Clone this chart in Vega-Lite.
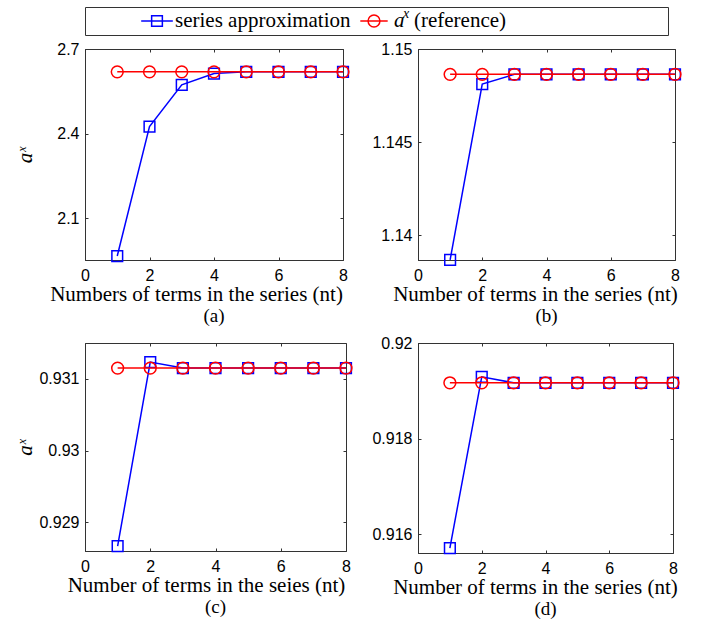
{
  "$schema": "https://vega.github.io/schema/vega-lite/v6.json",
  "padding": {"left": 13, "top": 6, "right": 5, "bottom": 5},
  "background": "white",
  "datasets": {
    "pts": [
      {"panel": "a", "nt": 1, "series": 1.966, "reference": 2.619},
      {"panel": "a", "nt": 2, "series": 2.425, "reference": 2.619},
      {"panel": "a", "nt": 3, "series": 2.573, "reference": 2.619},
      {"panel": "a", "nt": 4, "series": 2.613, "reference": 2.619},
      {"panel": "a", "nt": 5, "series": 2.619, "reference": 2.619},
      {"panel": "a", "nt": 6, "series": 2.619, "reference": 2.619},
      {"panel": "a", "nt": 7, "series": 2.619, "reference": 2.619},
      {"panel": "a", "nt": 8, "series": 2.619, "reference": 2.619},
      {"panel": "b", "nt": 1, "series": 1.13869, "reference": 1.14864},
      {"panel": "b", "nt": 2, "series": 1.14812, "reference": 1.14864},
      {"panel": "b", "nt": 3, "series": 1.14864, "reference": 1.14864},
      {"panel": "b", "nt": 4, "series": 1.14864, "reference": 1.14864},
      {"panel": "b", "nt": 5, "series": 1.14864, "reference": 1.14864},
      {"panel": "b", "nt": 6, "series": 1.14864, "reference": 1.14864},
      {"panel": "b", "nt": 7, "series": 1.14864, "reference": 1.14864},
      {"panel": "b", "nt": 8, "series": 1.14864, "reference": 1.14864},
      {"panel": "c", "nt": 1, "series": 0.928667, "reference": 0.93115},
      {"panel": "c", "nt": 2, "series": 0.931234, "reference": 0.93115},
      {"panel": "c", "nt": 3, "series": 0.93115, "reference": 0.93115},
      {"panel": "c", "nt": 4, "series": 0.93115, "reference": 0.93115},
      {"panel": "c", "nt": 5, "series": 0.93115, "reference": 0.93115},
      {"panel": "c", "nt": 6, "series": 0.93115, "reference": 0.93115},
      {"panel": "c", "nt": 7, "series": 0.93115, "reference": 0.93115},
      {"panel": "c", "nt": 8, "series": 0.93115, "reference": 0.93115},
      {"panel": "d", "nt": 1, "series": 0.915708, "reference": 0.919167},
      {"panel": "d", "nt": 2, "series": 0.919292, "reference": 0.919167},
      {"panel": "d", "nt": 3, "series": 0.919167, "reference": 0.919167},
      {"panel": "d", "nt": 4, "series": 0.919167, "reference": 0.919167},
      {"panel": "d", "nt": 5, "series": 0.919167, "reference": 0.919167},
      {"panel": "d", "nt": 6, "series": 0.919167, "reference": 0.919167},
      {"panel": "d", "nt": 7, "series": 0.919167, "reference": 0.919167},
      {"panel": "d", "nt": 8, "series": 0.919167, "reference": 0.919167}
    ],
    "legend": [
      {"item": "series", "k": 0},
      {"item": "reference", "k": 0}
    ]
  },
  "spacing": 4,
  "vconcat": [
    {
      "width": 583,
      "height": 28,
      "data": {"name": "legend"},
      "encoding": {
        "x": {"field": "item", "type": "nominal", "scale": {"type": "point", "padding": 0, "domain": ["series", "reference"], "range": [72, 289]}, "axis": null},
        "y": {"field": "k", "type": "quantitative", "scale": {"domain": [-1, 1]}, "axis": {"labels": false, "ticks": false, "domain": false, "title": "aˣ", "titleOpacity": 0, "titleX": -48, "titleBaseline": "bottom", "titleFontStyle": "italic"}}
      },
      "layer": [
        {"transform": [{"filter": "datum.item === 'series'"}], "mark": {"type": "point", "shape": "M-1,0H1", "filled": false, "size": 1000, "strokeWidth": 1.5, "color": "#0000ff", "opacity": 1}},
        {"transform": [{"filter": "datum.item === 'series'"}], "mark": {"type": "point", "shape": "square", "filled": false, "size": 115, "strokeWidth": 1.5, "color": "#0000ff", "opacity": 1}},
        {"transform": [{"filter": "datum.item === 'reference'"}], "mark": {"type": "point", "shape": "M-1,0H1", "filled": false, "size": 750, "strokeWidth": 1.5, "color": "#ff0000", "opacity": 1}},
        {"transform": [{"filter": "datum.item === 'reference'"}], "mark": {"type": "point", "shape": "circle", "filled": false, "size": 140, "strokeWidth": 1.5, "color": "#ff0000", "opacity": 1}},
        {"transform": [{"filter": "datum.item === 'series'"}], "mark": {"type": "text", "text": "series approximation", "align": "left", "baseline": "middle", "dx": 18, "font": "Liberation Serif", "fontSize": 21, "color": "#000"}},
        {"transform": [{"filter": "datum.item === 'reference'"}], "mark": {"type": "text", "text": "a", "align": "left", "baseline": "middle", "dx": 20, "font": "Liberation Serif", "fontStyle": "italic", "fontSize": 21, "color": "#000"}},
        {"transform": [{"filter": "datum.item === 'reference'"}], "mark": {"type": "text", "text": "x", "align": "left", "baseline": "middle", "dx": 29, "dy": -7, "font": "Liberation Serif", "fontStyle": "italic", "fontSize": 14, "color": "#000"}},
        {"transform": [{"filter": "datum.item === 'reference'"}], "mark": {"type": "text", "text": "(reference)", "align": "left", "baseline": "middle", "dx": 40, "font": "Liberation Serif", "fontSize": 21, "color": "#000"}}
      ]
    },
    {
      "spacing": 7,
      "vconcat": [
        {
          "spacing": 18,
          "hconcat": [
            {
              "width": 258,
              "height": 211,
              "data": {"name": "pts"},
              "transform": [{"filter": "datum.panel === 'a'"}],
              "title": {"text": "(a)", "orient": "bottom", "offset": 3},
              "resolve": {"scale": {"x": "independent", "y": "independent"}},
              "layer": [
                {"mark": {"type": "line", "color": "#0000ff", "strokeWidth": 1.5, "point": {"shape": "square", "filled": false, "size": 115, "strokeWidth": 1.5, "color": "#0000ff", "opacity": 1}},
                 "encoding": {
                   "x": {"field": "nt", "type": "quantitative", "scale": {"domain": [0, 8], "nice": false}, "axis": {"values": [0, 2, 4, 6, 8], "title": "Numbers of terms in the series (nt)", "titleX": 111}},
                   "y": {"field": "series", "type": "quantitative", "scale": {"domain": [1.952, 2.7], "nice": false, "zero": false}, "axis": {"values": [2.1, 2.4, 2.7], "format": "~g", "title": "aˣ", "titleX": -50, "titleBaseline": "bottom", "titleFontStyle": "italic"}}}},
                {"mark": {"type": "line", "color": "#ff0000", "strokeWidth": 1.5, "point": {"shape": "circle", "filled": false, "size": 140, "strokeWidth": 1.5, "color": "#ff0000", "opacity": 1}},
                 "encoding": {
                   "x": {"field": "nt", "type": "quantitative", "scale": {"domain": [0, 8], "nice": false}, "axis": {"orient": "top", "values": [0, 2, 4, 6, 8], "labels": false, "domain": false, "title": null}},
                   "y": {"field": "reference", "type": "quantitative", "scale": {"domain": [1.952, 2.7], "nice": false, "zero": false}, "axis": {"orient": "right", "values": [2.1, 2.4, 2.7], "labels": false, "domain": false, "title": null}}}}
              ]
            },
            {
              "width": 257,
              "height": 211,
              "data": {"name": "pts"},
              "transform": [{"filter": "datum.panel === 'b'"}],
              "title": {"text": "(b)", "orient": "bottom", "offset": 3},
              "resolve": {"scale": {"x": "independent", "y": "independent"}},
              "layer": [
                {"mark": {"type": "line", "color": "#0000ff", "strokeWidth": 1.5, "point": {"shape": "square", "filled": false, "size": 115, "strokeWidth": 1.5, "color": "#0000ff", "opacity": 1}},
                 "encoding": {
                   "x": {"field": "nt", "type": "quantitative", "scale": {"domain": [0, 8], "nice": false}, "axis": {"values": [0, 2, 4, 6, 8], "title": "Number of terms in the series (nt)", "titleX": 117}},
                   "y": {"field": "series", "type": "quantitative", "scale": {"domain": [1.13868, 1.15], "nice": false, "zero": false}, "axis": {"values": [1.14, 1.145, 1.15], "format": "~g", "title": null}}}},
                {"mark": {"type": "line", "color": "#ff0000", "strokeWidth": 1.5, "point": {"shape": "circle", "filled": false, "size": 140, "strokeWidth": 1.5, "color": "#ff0000", "opacity": 1}},
                 "encoding": {
                   "x": {"field": "nt", "type": "quantitative", "scale": {"domain": [0, 8], "nice": false}, "axis": {"orient": "top", "values": [0, 2, 4, 6, 8], "labels": false, "domain": false, "title": null}},
                   "y": {"field": "reference", "type": "quantitative", "scale": {"domain": [1.13868, 1.15], "nice": false, "zero": false}, "axis": {"orient": "right", "values": [1.14, 1.145, 1.15], "labels": false, "domain": false, "title": null}}}}
              ]
            }
          ]
        },
        {
          "spacing": 15,
          "hconcat": [
            {
              "width": 261,
              "height": 208,
              "data": {"name": "pts"},
              "transform": [{"filter": "datum.panel === 'c'"}],
              "title": {"text": "(c)", "orient": "bottom", "offset": 3},
              "resolve": {"scale": {"x": "independent", "y": "independent"}},
              "layer": [
                {"mark": {"type": "line", "color": "#0000ff", "strokeWidth": 1.5, "point": {"shape": "square", "filled": false, "size": 115, "strokeWidth": 1.5, "color": "#0000ff", "opacity": 1}},
                 "encoding": {
                   "x": {"field": "nt", "type": "quantitative", "scale": {"domain": [0, 8], "nice": false}, "axis": {"values": [0, 2, 4, 6, 8], "title": "Number of terms in the seies (nt)", "titleX": 121}},
                   "y": {"field": "series", "type": "quantitative", "scale": {"domain": [0.9286, 0.9315], "nice": false, "zero": false}, "axis": {"values": [0.929, 0.93, 0.931], "format": "~g", "title": "aˣ", "titleX": -50, "titleBaseline": "bottom", "titleFontStyle": "italic"}}}},
                {"mark": {"type": "line", "color": "#ff0000", "strokeWidth": 1.5, "point": {"shape": "circle", "filled": false, "size": 140, "strokeWidth": 1.5, "color": "#ff0000", "opacity": 1}},
                 "encoding": {
                   "x": {"field": "nt", "type": "quantitative", "scale": {"domain": [0, 8], "nice": false}, "axis": {"orient": "top", "values": [0, 2, 4, 6, 8], "labels": false, "domain": false, "title": null}},
                   "y": {"field": "reference", "type": "quantitative", "scale": {"domain": [0.9286, 0.9315], "nice": false, "zero": false}, "axis": {"orient": "right", "values": [0.929, 0.93, 0.931], "labels": false, "domain": false, "title": null}}}}
              ]
            },
            {
              "width": 255,
              "height": 210,
              "data": {"name": "pts"},
              "transform": [{"filter": "datum.panel === 'd'"}],
              "title": {"text": "(d)", "orient": "bottom", "offset": 3},
              "resolve": {"scale": {"x": "independent", "y": "independent"}},
              "layer": [
                {"mark": {"type": "line", "color": "#0000ff", "strokeWidth": 1.5, "point": {"shape": "square", "filled": false, "size": 115, "strokeWidth": 1.5, "color": "#0000ff", "opacity": 1}},
                 "encoding": {
                   "x": {"field": "nt", "type": "quantitative", "scale": {"domain": [0, 8], "nice": false}, "axis": {"values": [0, 2, 4, 6, 8], "title": "Number of terms in the series (nt)", "titleX": 117}},
                   "y": {"field": "series", "type": "quantitative", "scale": {"domain": [0.915604, 0.92], "nice": false, "zero": false}, "axis": {"values": [0.916, 0.918, 0.92], "format": "~g", "title": null}}}},
                {"mark": {"type": "line", "color": "#ff0000", "strokeWidth": 1.5, "point": {"shape": "circle", "filled": false, "size": 140, "strokeWidth": 1.5, "color": "#ff0000", "opacity": 1}},
                 "encoding": {
                   "x": {"field": "nt", "type": "quantitative", "scale": {"domain": [0, 8], "nice": false}, "axis": {"orient": "top", "values": [0, 2, 4, 6, 8], "labels": false, "domain": false, "title": null}},
                   "y": {"field": "reference", "type": "quantitative", "scale": {"domain": [0.915604, 0.92], "nice": false, "zero": false}, "axis": {"orient": "right", "values": [0.916, 0.918, 0.92], "labels": false, "domain": false, "title": null}}}}
              ]
            }
          ]
        }
      ]
    }
  ],
  "config": {
    "view": {"stroke": "#333333", "strokeWidth": 1},
    "axis": {
      "grid": false,
      "domainColor": "#333333",
      "tickColor": "#333333",
      "tickSize": -3,
      "labelFont": "Liberation Sans",
      "labelFontSize": 16,
      "labelColor": "#000",
      "labelFlush": false,
      "labelOverlap": false,
      "titleFont": "Liberation Serif",
      "titleFontSize": 21,
      "titleFontWeight": "normal",
      "titleColor": "#000"
    },
    "axisX": {"labelPadding": 10, "titlePadding": 0},
    "axisY": {"labelPadding": 9},
    "title": {"font": "Liberation Serif", "fontSize": 19, "fontWeight": "normal", "color": "#000"}
  }
}
